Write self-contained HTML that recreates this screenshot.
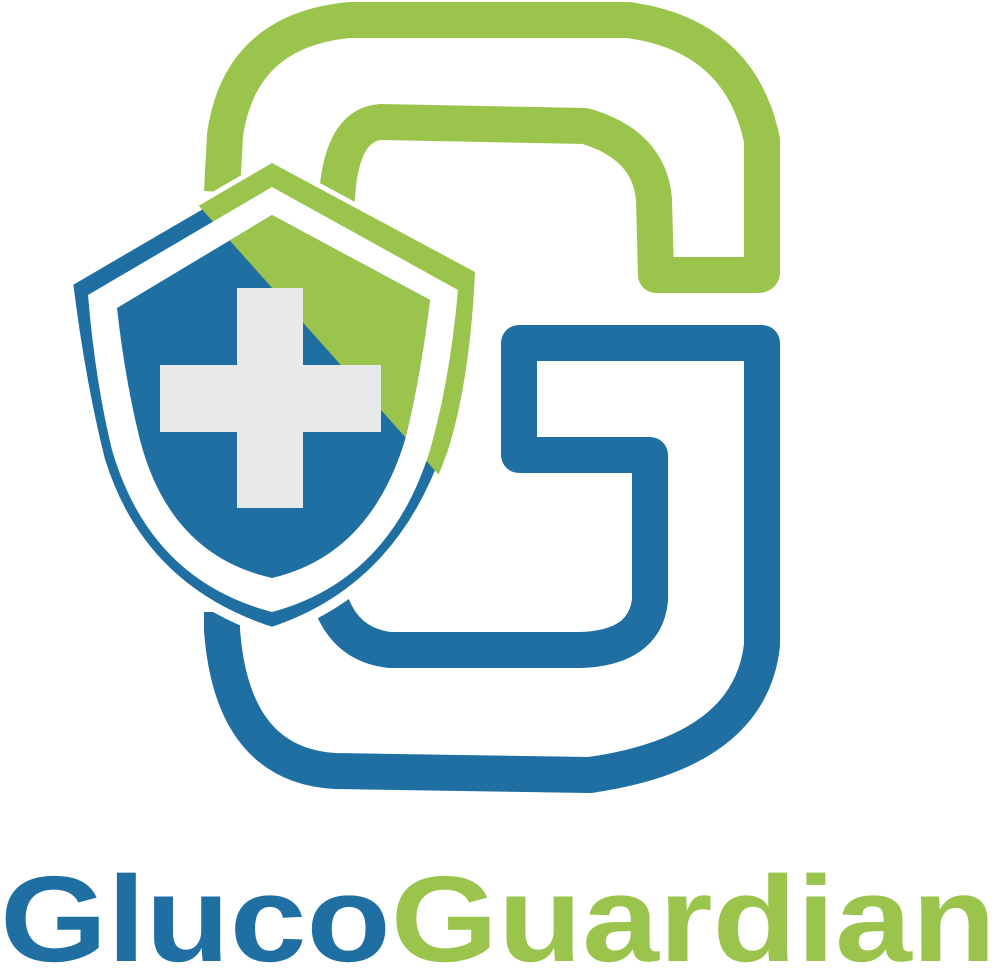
<!DOCTYPE html>
<html>
<head>
<meta charset="utf-8">
<style>
html,body{margin:0;padding:0;background:#fff;}
svg{display:block;}
</style>
</head>
<body>
<svg width="996" height="977" viewBox="0 0 996 977" xmlns="http://www.w3.org/2000/svg">
  <defs>
    <clipPath id="greenSide">
      <polygon points="100,95 760,95 760,835"/>
    </clipPath>
  </defs>
  <path
        d="M222,192 L225,135 Q240,30 350,20 L628,20 Q740,35 762,140 L762,272 Q762,275 758,275 L656,275 L654,200 Q650,145 585,126 L380,122 Q345,125 338,185 L336,210"
        fill="none" stroke="#9BC44C" stroke-width="36" stroke-linejoin="round" stroke-linecap="butt"/>
  <path
        d="M222,612 L222,630 Q232,765 335,771 L590,775 Q750,752 762,645 L762,343 L519,343 L519,455 L650,455 L650,600 Q645,648 580,650 L390,650 Q345,645 330,600"
        fill="none" stroke="#1F6FA3" stroke-width="36" stroke-linejoin="round" stroke-linecap="butt"/>
  <g>
    <path d="M272,163 L475,272 Q470,380 448,450 Q400,590 272,632 Q140,590 100,460 Q80,380 68,282 Z" fill="#1F6FA3" stroke="#fff" stroke-width="10" stroke-linejoin="round"/>
    <path d="M272,163 L475,272 Q470,380 448,450 Q400,590 272,632 Q140,590 100,460 Q80,380 68,282 Z" fill="#9BC44C" clip-path="url(#greenSide)"/>
    <path d="M272,187 L458,290 Q450,380 430,450 Q390,580 272,612 Q150,580 112,450 Q95,380 88,295 Z" fill="#fff"/>
    <path d="M272,215 L430,300 Q420,380 405,440 Q370,555 272,578 Q170,555 140,440 Q125,380 117,308 Z" fill="#1F6FA3"/>
    <path d="M272,215 L430,300 Q420,380 405,440 Q370,555 272,578 Q170,555 140,440 Q125,380 117,308 Z" fill="#9BC44C" clip-path="url(#greenSide)"/>
    <rect x="237" y="288" width="66" height="220" fill="#E8E9EA"/>
    <rect x="160" y="365" width="221" height="67" fill="#E8E9EA"/>
  </g>
  <text x="0" y="961" font-family="'Liberation Sans', sans-serif" font-weight="bold" font-size="122" textLength="996" lengthAdjust="spacingAndGlyphs"><tspan fill="#1F6FA3">Gluco</tspan><tspan fill="#9BC44C">Guardian</tspan></text>
</svg>
</body>
</html>
